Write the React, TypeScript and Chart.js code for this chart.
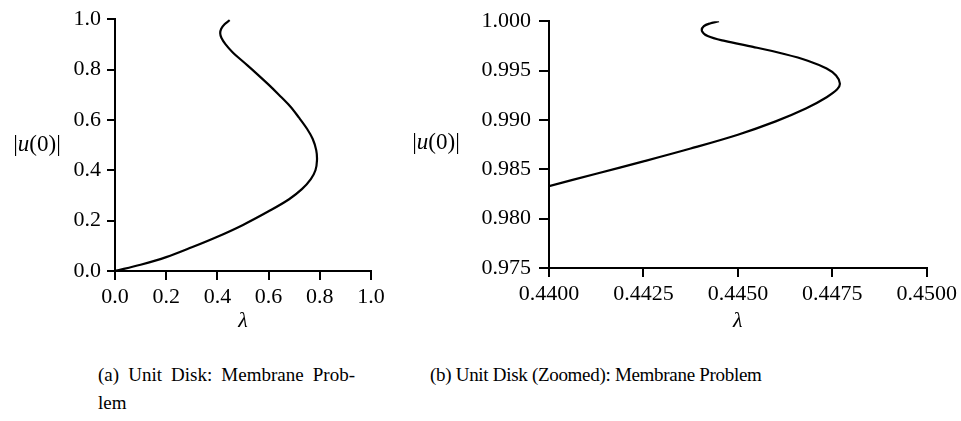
import React, { useEffect, useRef } from "react";
import { Chart, registerables } from "chart.js";

Chart.register(...registerables);

// ---------- Data ----------
// (a) full branch
const lambdaA = [0, 0.1, 0.2, 0.3, 0.4, 0.5, 0.6, 0.68, 0.73, 0.765, 0.783, 0.789, 0.786, 0.772, 0.75, 0.718, 0.683, 0.64, 0.6, 0.55, 0.5, 0.461, 0.432, 0.416, 0.411, 0.415, 0.428, 0.448];
const uA = [0, 0.025, 0.055, 0.094, 0.136, 0.183, 0.237, 0.285, 0.325, 0.365, 0.4, 0.44, 0.48, 0.525, 0.565, 0.61, 0.655, 0.7, 0.74, 0.787, 0.832, 0.867, 0.9, 0.925, 0.944, 0.962, 0.98, 0.996];

// (b) zoomed branch
const lambdaB = [0.44, 0.44125, 0.4425, 0.44375, 0.445, 0.446, 0.4468, 0.44735, 0.44763, 0.4477, 0.4476, 0.44735, 0.44685, 0.4462, 0.4454, 0.44465, 0.4442, 0.44405, 0.4441, 0.44428, 0.4445];
const uB = [0.9833, 0.98455, 0.9858, 0.9871, 0.9885, 0.98985, 0.99115, 0.9923, 0.9931, 0.99369, 0.9945, 0.9952, 0.996, 0.9967, 0.9974, 0.998, 0.9985, 0.999, 0.9995, 0.9998, 1.0];

const xTicksA = [0, 0.2, 0.4, 0.6, 0.8, 1.0];
const yTicksA = [0, 0.2, 0.4, 0.6, 0.8, 1.0];
const xTicksB = [0.44, 0.4425, 0.445, 0.4475, 0.45];
const yTicksB = [0.975, 0.98, 0.985, 0.99, 0.995, 1.0];

const xTitle = "λ";
const captionA = ["(a) Unit Disk: Membrane Prob-", "lem"];
const captionB = "(b) Unit Disk (Zoomed): Membrane Problem";

const FONT = '"Liberation Serif", "Times New Roman", serif';
const FS = 22;

type Geom = {
  width: number;
  height: number;
  left: number;
  right: number;
  top: number;
  xAxisH: number;
  tlx: number;
  tly: number;
  xpad: number;
  ypad: number;
  titlePadB: number;
  labelX: number;
  labelY: number;
};

function ulabelPlugin(cx: number, cy: number) {
  return {
    id: "ulabel",
    afterDraw(chart: any) {
      const ctx = chart.ctx as CanvasRenderingContext2D;
      ctx.save();
      const parts: [string, string][] = [
        ["|", "normal"],
        ["u", "italic"],
        ["(0)|", "normal"],
      ];
      const fs = 23;
      const widths = parts.map(([t, s]) => {
        ctx.font = `${s} ${fs}px ${FONT}`;
        return ctx.measureText(t).width;
      });
      const total = widths.reduce((a, b) => a + b, 0);
      let x = cx - total / 2;
      ctx.fillStyle = "#000";
      ctx.textBaseline = "middle";
      ctx.textAlign = "left";
      parts.forEach(([t, s], i) => {
        ctx.font = `${s} ${fs}px ${FONT}`;
        ctx.fillText(t, x, cy);
        x += widths[i];
      });
      ctx.restore();
    },
  };
}

function PlotCanvas(props: {
  lam: number[];
  u: number[];
  xTicks: number[];
  yTicks: number[];
  xDec: number;
  yDec: number;
  g: Geom;
  style: React.CSSProperties;
}) {
  const ref = useRef<HTMLCanvasElement | null>(null);
  useEffect(() => {
    const { lam, u, xTicks, yTicks, xDec, yDec, g } = props;
    const chart = new Chart(ref.current as HTMLCanvasElement, {
      type: "scatter",
      data: {
        datasets: [
          {
            data: lam.map((x, i) => ({ x, y: u[i] })),
            showLine: true,
            borderColor: "#000",
            borderWidth: 2.2,
            pointRadius: 0,
            tension: 0.35,
            fill: false,
          } as any,
        ],
      },
      options: {
        responsive: false,
        animation: false,
        devicePixelRatio: 1,
        layout: { padding: { left: 0, top: g.top, right: g.right, bottom: 0 } },
        plugins: {
          legend: { display: false },
          tooltip: { enabled: false },
          title: { display: false },
        },
        scales: {
          x: {
            type: "linear",
            min: xTicks[0],
            max: xTicks[xTicks.length - 1],
            afterBuildTicks: (s: any) => {
              s.ticks = xTicks.map((v) => ({ value: v }));
            },
            afterFit: (s: any) => {
              s.height = g.xAxisH;
            },
            grid: {
              drawOnChartArea: false,
              drawTicks: true,
              tickLength: g.tlx,
              color: "#000",
              lineWidth: 2,
            },
            border: { display: true, color: "#000", width: 2 },
            ticks: {
              color: "#000",
              font: { family: FONT, size: FS },
              padding: g.xpad,
              maxRotation: 0,
              autoSkip: false,
              callback: (v: any) => Number(v).toFixed(xDec),
            },
            title: {
              display: true,
              text: xTitle,
              color: "#000",
              font: { family: FONT, size: FS, style: "italic" },
              padding: { top: 0, bottom: g.titlePadB },
            },
          },
          y: {
            type: "linear",
            min: yTicks[0],
            max: yTicks[yTicks.length - 1],
            afterBuildTicks: (s: any) => {
              s.ticks = yTicks.map((v) => ({ value: v }));
            },
            afterFit: (s: any) => {
              s.width = g.left;
            },
            grid: {
              drawOnChartArea: false,
              drawTicks: true,
              tickLength: g.tly,
              color: "#000",
              lineWidth: 2,
            },
            border: { display: true, color: "#000", width: 2 },
            ticks: {
              color: "#000",
              font: { family: FONT, size: FS },
              padding: g.ypad,
              autoSkip: false,
              callback: (v: any) => Number(v).toFixed(yDec),
            },
          },
        },
      } as any,
      plugins: [ulabelPlugin(g.labelX, g.labelY)],
    });
    return () => chart.destroy();
  }, []);
  return (
    <canvas
      ref={ref}
      width={props.g.width}
      height={props.g.height}
      style={{ position: "absolute", display: "block", ...props.style }}
    />
  );
}

const geomA: Geom = {
  width: 420,
  height: 335,
  left: 115,
  right: 49,
  top: 16,
  xAxisH: 64,
  tlx: 9,
  tly: 8,
  xpad: 4,
  ypad: 6,
  titlePadB: 1,
  labelX: 37,
  labelY: 145,
};

const geomB: Geom = {
  width: 561,
  height: 335,
  left: 149,
  right: 32,
  top: 16,
  xAxisH: 67,
  tlx: 9,
  tly: 10,
  xpad: 4,
  ypad: 8,
  titlePadB: 1,
  labelX: 36,
  labelY: 143,
};

export default function App() {
  const capStyle: React.CSSProperties = {
    position: "absolute",
    fontFamily: FONT,
    fontSize: 19,
    lineHeight: "28px",
    color: "#000",
    whiteSpace: "nowrap",
  };
  return (
    <div
      style={{
        position: "fixed",
        left: 0,
        top: 0,
        width: 961,
        height: 421,
        background: "#fff",
        overflow: "hidden",
      }}
    >
      <PlotCanvas
        lam={lambdaA}
        u={uA}
        xTicks={xTicksA}
        yTicks={yTicksA}
        xDec={1}
        yDec={1}
        g={geomA}
        style={{ left: 0, top: 0 }}
      />
      <PlotCanvas
        lam={lambdaB}
        u={uB}
        xTicks={xTicksB}
        yTicks={yTicksB}
        xDec={4}
        yDec={3}
        g={geomB}
        style={{ left: 400, top: 0 }}
      />
      <div style={{ ...capStyle, left: 98, top: 361, width: 257 }}>
        <div style={{ textAlign: "justify", textAlignLast: "justify", whiteSpace: "normal" }}>
          {captionA[0]}
        </div>
        <div>{captionA[1]}</div>
      </div>
      <div style={{ ...capStyle, left: 430, top: 361, letterSpacing: "-0.3px" }}>{captionB}</div>
    </div>
  );
}
